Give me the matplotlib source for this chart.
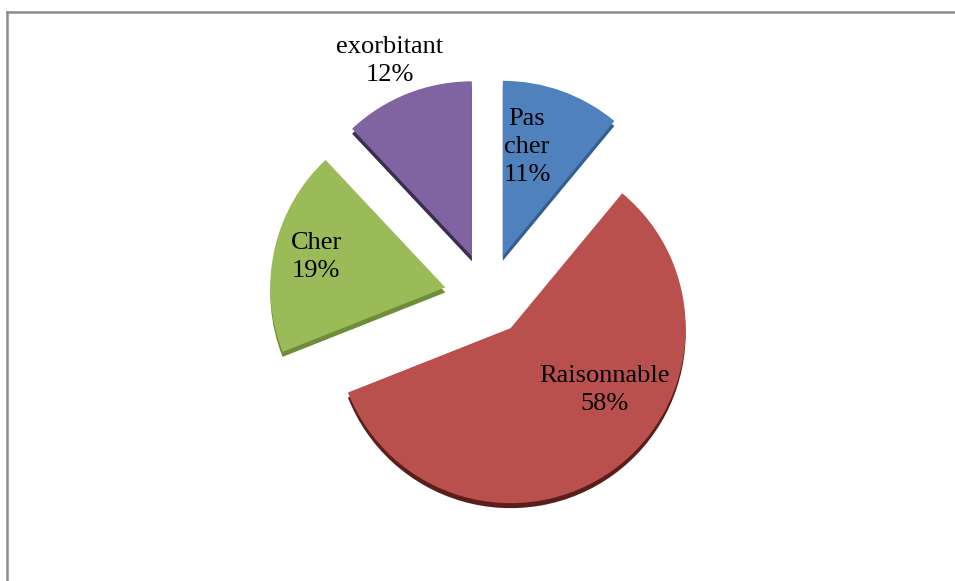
import matplotlib
matplotlib.use("Agg")
import matplotlib.pyplot as plt
from matplotlib.lines import Line2D

W, H = 955, 581

labels = ["Pas\ncher", "Raisonnable", "Cher", "exorbitant"]
shares = [11, 58, 19, 12]
colors = ["#4F81BD", "#BA504D", "#9BBB59", "#8064A2"]
side_colors = ["#355F90", "#5A1F1D", "#6F8C38", "#3B2D50"]
explode = [0.25, 0.22, 0.25, 0.25]  # fraction of the radius
# label centres in pixel coords (x, y from top)
label_xy = [(527, 147), (604, 390), (316, 257), (390, 61)]

CX, CY, R = 488, 297, 175
DEPTH = 5

fig = plt.figure(figsize=(W / 100, H / 100), dpi=100)
ax = fig.add_axes([0, 0, 1, 1])

# pie() takes explode in data units, so scale by the radius
expl = [e * R for e in explode]

# side / depth of the 3D pie, drawn as a darker copy shifted down
ax.pie(shares, colors=side_colors, explode=expl, radius=R,
       center=(CX, H - CY - DEPTH), startangle=90, counterclock=False,
       wedgeprops=dict(linewidth=0))
ax.pie(shares, colors=colors, explode=expl, radius=R,
       center=(CX, H - CY), startangle=90, counterclock=False,
       wedgeprops=dict(linewidth=0))

for lab, s, (px, py) in zip(labels, shares, label_xy):
    ax.text(px, H - py, f"{lab}\n{s}%", ha="center", va="center",
            multialignment="center", fontsize=19, family="Liberation Serif",
            linespacing=1.35, color="black")

ax.set_xlim(0, W)
ax.set_ylim(0, H)
ax.set_aspect("equal", adjustable="datalim")
ax.axis("off")

# outer chart frame (top and left edges visible)
fig.add_artist(Line2D([7 / W, 1], [1 - 12 / H, 1 - 12 / H], color="#8c8c8c", lw=1.8))
fig.add_artist(Line2D([7 / W, 7 / W], [0, 1 - 12 / H], color="#8c8c8c", lw=1.8))

fig.savefig("out.png", dpi=100)
